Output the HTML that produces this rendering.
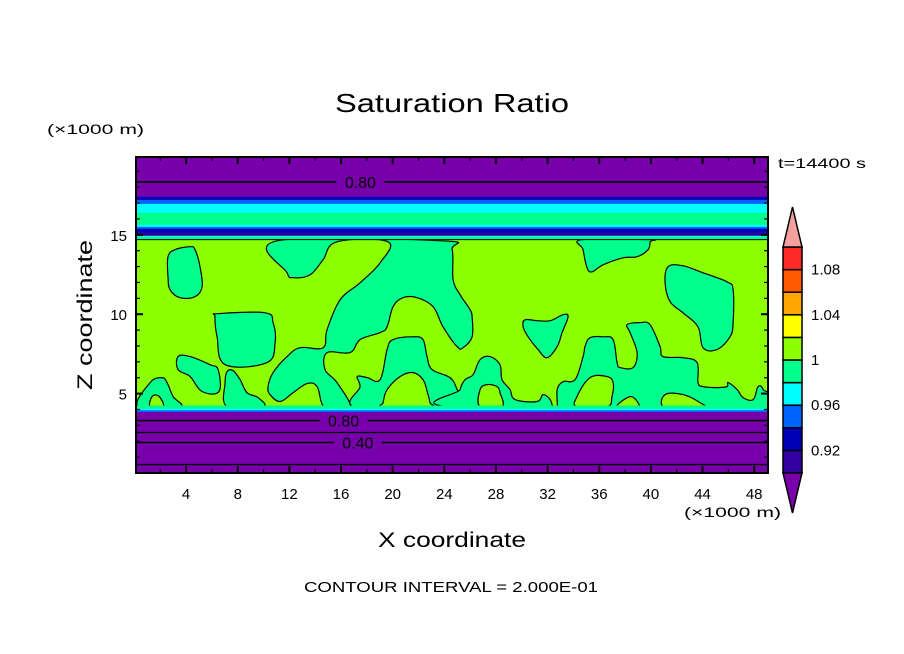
<!DOCTYPE html>
<html><head><meta charset="utf-8"><style>
html,body{margin:0;padding:0;background:#fff;}
svg{display:block;font-family:"Liberation Sans",sans-serif;}
</style></head><body>
<svg id="chart" width="904" height="654" viewBox="0 0 904 654" xmlns="http://www.w3.org/2000/svg">
<defs><clipPath id="plotclip"><rect x="136" y="157" width="632" height="316"/></clipPath></defs>
<g id="plot" clip-path="url(#plotclip)"></g>
<rect x="136" y="157" width="632" height="316" fill="none" stroke="#000" stroke-width="2"/>
<g id="ticks"></g>
<text x="452" y="112" font-size="26" text-anchor="middle" textLength="234" lengthAdjust="spacingAndGlyphs">Saturation Ratio</text>
<text x="47" y="134" font-size="14" textLength="97" lengthAdjust="spacingAndGlyphs">(×1000 m)</text>
<text x="684" y="517" font-size="14" textLength="97" lengthAdjust="spacingAndGlyphs">(×1000 m)</text>
<text x="778" y="168" font-size="14" textLength="88" lengthAdjust="spacingAndGlyphs">t=14400 s</text>
<text x="452" y="547" font-size="21" text-anchor="middle" textLength="148" lengthAdjust="spacingAndGlyphs">X coordinate</text>
<text transform="translate(92,315) rotate(-90)" font-size="21" text-anchor="middle" textLength="150" lengthAdjust="spacingAndGlyphs">Z coordinate</text>
<text x="451" y="592" font-size="15" text-anchor="middle" textLength="294" lengthAdjust="spacingAndGlyphs">CONTOUR INTERVAL = 2.000E-01</text>
<g id="colorbar"></g>
</svg>
<script>
// ---- data ----
const levelColors = ["#7800aa","#3200a0","#0000b4","#0064ff","#00ffff","#00ff8c","#8cff00","#ffff00","#ffa500","#ff5a00","#ff2a2a","#f4a0a0"];
const colorbarLabels = ["0.92","0.96","1","1.04","1.08"];
const xTickLabels = [4,8,12,16,20,24,28,32,36,40,44,48];
const zTickLabels = [5,10,15];
// horizontal bands: [zLow, zHigh, levelIndex]
const bands = [
 [17.39,19.9,0],[17.2,17.39,2],[16.95,17.2,3],[16.38,16.95,4],[15.63,16.38,5],[15.5,15.63,4],
 [15.38,15.5,3],[15.13,15.38,2],[14.94,15.13,1],[14.87,14.94,4],[14.7,14.87,5],[4.2,14.7,6],
 [4.05,4.25,5],[3.95,4.05,4],[3.84,3.95,3],[0,3.84,0]
];
// contour regions [x km, z km]
const regionG1 = [[11.05,14.62],[11.82,12.61],[12.29,12.3],[13.6,12.48],[14.61,13.43],[15.69,14.56],[19.64,14.56],[19.03,13.24],[17.48,11.98],[15.93,10.91],[14.92,9.03],[14.61,7.89],[12.83,7.89],[11.82,7.33],[10.74,6.32],[10.35,5.44],[10.5,4.94],[11.28,4.5],[12.29,5.06],[13.37,5.63],[14.15,5.44],[14.76,4.12],[16.7,4.12],[15.69,5.69],[14.76,6.51],[14.92,7.58],[16.7,7.58],[17.48,8.4],[19.03,8.84],[19.57,9.21],[20.03,10.47],[20.8,11.04],[21.89,11.04],[23.13,10.47],[23.9,9.21],[24.99,7.96],[25.45,7.89],[26.15,8.58],[26.15,9.84],[26.0,10.28],[25.22,11.23],[24.68,12.17],[24.6,14.06],[23.82,14.62]];
const regionG2 = [[17.25,4.12],[17.48,5.44],[17.25,6.07],[18.02,6.01],[19.03,5.88],[19.57,7.77],[20.03,8.4],[21.58,8.58],[22.35,8.4],[22.66,7.33],[23.05,6.51],[24.44,6.01],[24.99,5.25],[25.45,4.12]];
const islandL2 = [[19.26,4.18],[19.26,4.43],[19.57,5.25],[20.57,6.07],[21.58,6.32],[22.35,5.88],[22.7,5.06],[22.89,4.43],[22.89,4.18]];
const regionG3 = [[34.67,14.69],[34.75,14.06],[35.06,12.92],[35.45,12.67],[36.3,13.11],[37.85,13.55],[38.93,13.62],[39.78,14.06],[39.94,14.56],[39.94,14.69]];
const regionG4 = [[41.33,12.99],[42.49,13.05],[44.04,12.61],[45.9,12.04],[46.37,11.54],[46.37,9.47],[46.13,8.58],[45.12,7.77],[44.04,7.89],[43.65,9.21],[42.49,10.09],[41.49,10.79],[41.1,11.98]];
const regionG5 = [[30.25,9.65],[31.18,9.59],[32.2,9.59],[33.2,9.97],[33.59,9.84],[33.12,8.84],[32.74,7.96],[31.96,7.26],[31.26,7.77],[30.49,8.58],[30.1,9.21]];
const regionG6 = [[25.07,4.12],[25.22,5.25],[25.61,5.88],[26.23,6.19],[26.77,7.14],[27.54,7.33],[28.31,6.82],[28.47,5.88],[29.09,5.25],[29.48,4.62],[31.18,4.5],[31.65,4.94],[32.2,4.62],[32.43,4.12],[32.74,4.12],[32.74,5.25],[33.2,5.75],[34.13,5.88],[34.75,7.33],[34.9,7.96],[35.29,8.52],[36.3,8.58],[37.07,8.4],[37.38,6.95],[37.62,6.64],[38.62,6.64],[38.93,7.58],[38.39,8.84],[38.16,9.34],[39.16,9.47],[39.94,9.34],[40.71,7.96],[40.94,7.33],[42.49,7.26],[43.58,6.95],[43.65,5.69],[44.04,5.44],[45.12,5.38],[45.9,5.44],[45.98,5.69],[46.68,5.25],[47.14,4.75],[47.92,4.62],[48.3,5.44],[48.69,5.25],[48.85,4.12]];
const islandLI1 = [[26.77,5.25],[27.3,5.57],[28.08,5.44],[28.31,5.06],[28.47,4.18],[26.77,4.18]];
const islandLI2 = [[34.28,4.81],[35.29,6.01],[36.6,6.07],[37.07,5.69],[36.99,4.81],[36.6,4.18],[34.28,4.18]];
const islandLI3 = [[37.38,4.18],[38.39,4.81],[39.0,4.43],[38.93,4.12]];
const islandLI4 = [[41.1,4.94],[42.49,4.94],[43.81,4.43],[44.04,4.12],[41.1,4.12]];
const regionG7 = [[3.38,7.33],[4.31,7.33],[5.86,6.82],[6.48,6.51],[6.55,5.13],[5.24,5.13],[4.31,6.07],[3.38,6.51]];
const regionG8 = [[7.17,6.38],[7.64,6.45],[8.18,5.88],[8.72,5.06],[9.58,4.75],[9.96,4.18],[7.17,4.18],[7.02,5.69]];
const regionG9 = [[0.28,4.18],[1.21,5.69],[2.14,6.01],[2.52,5.69],[2.99,4.81],[3.53,4.18]];
const islandL9 = [[1.36,4.81],[1.83,4.87],[2.21,4.43],[2.14,4.18],[1.21,4.18]];
const regionG10 = [[6.24,9.84],[6.48,10.03],[10.12,10.09],[10.74,9.47],[10.89,8.21],[10.27,6.95],[7.02,6.82],[6.4,8.58]];
const regionG11 = [[2.6,13.62],[3.14,14.06],[4.31,14.25],[4.69,14.06],[5.08,12.99],[5.24,11.73],[4.69,11.1],[3.53,11.04],[2.76,11.54],[2.6,12.36]];
// contour lines in purple layers: [z, label, labelX]
const contourLines = [[18.33,"0.80",17.5],[3.3,"0.80",16.2],[2.55,"",0],[1.92,"0.40",17.3],[0.53,"",0]];
// ---- axes ----
const X0=0.12, X1=49.07, Z0=0, Z1=19.9;
const sx = x => 136 + (x-X0)/(X1-X0)*632;
const sz = z => 473 - (z-Z0)/(Z1-Z0)*316;
const NS="http://www.w3.org/2000/svg";
function mk(tag, parent){ const e=document.createElementNS(NS,tag); parent.appendChild(e); return e; }
const plot=document.getElementById('plot');
bands.forEach(b=>{
  const r=mk('rect',plot);
  
  
  r.setAttribute('x',136); r.setAttribute('width',632);
  r.setAttribute('y',sz(b[1])); r.setAttribute('height',Math.max(0,sz(b[0])-sz(b[1]))+0.5);
  r.setAttribute('fill',levelColors[b[2]]);
});
function smoothPath(pts){
  const P=pts.map(q=>[sx(q[0]),sz(q[1])]), n=P.length, t=0.18;
  let d='M'+P[0][0].toFixed(1)+','+P[0][1].toFixed(1);
  for(let i=0;i<n;i++){
    const p0=P[(i-1+n)%n],p1=P[i],p2=P[(i+1)%n],p3=P[(i+2)%n];
    const c1=[p1[0]+(p2[0]-p0[0])*t,p1[1]+(p2[1]-p0[1])*t];
    const c2=[p2[0]-(p3[0]-p1[0])*t,p2[1]-(p3[1]-p1[1])*t];
    d+=' C'+c1[0].toFixed(1)+','+c1[1].toFixed(1)+' '+c2[0].toFixed(1)+','+c2[1].toFixed(1)+' '+p2[0].toFixed(1)+','+p2[1].toFixed(1);
  }
  return d+'Z';
}
function region(pts, lvl, name){
  const p=mk('path',plot);
  
  
  p.setAttribute('d',smoothPath(pts));
  p.setAttribute('fill',levelColors[lvl]);
  p.setAttribute('stroke','#000'); p.setAttribute('stroke-width','1.2'); p.setAttribute('stroke-linejoin','round');
}
region(regionG1,5,'contour-region-central');
region(regionG2,5,'contour-region-arch');
region(islandL2,6,'contour-island');
region(regionG3,5,'contour-region-top-right');
region(regionG4,5,'contour-region-right-blob');
region(regionG5,5,'contour-region-triangle');
region(regionG6,5,'contour-region-lower-right');
region(islandLI1,6,'contour-island');
region(islandLI2,6,'contour-island');
region(islandLI3,6,'contour-island');
region(islandLI4,6,'contour-island');
region(regionG7,5,'contour-region-left-small');
region(regionG8,5,'contour-region-left-small-2');
region(regionG9,5,'contour-region-left-corner');
region(islandL9,6,'contour-island');
region(regionG10,5,'contour-region-square');
region(regionG11,5,'contour-region-oval');
// re-draw top strip and bottom transition bands over region edges
bands.filter(b=>b[1]<=4.25 || (b[0]>=14.7 && b[1]<=15.13)).forEach(b=>{
  const r=mk('rect',plot);
  
  
  r.setAttribute('x',136); r.setAttribute('width',632);
  r.setAttribute('y',sz(b[1])); r.setAttribute('height',Math.max(0,sz(b[0])-sz(b[1]))+0.5);
  r.setAttribute('fill',levelColors[b[2]]);
});
const tl=mk('line',plot);


tl.setAttribute('x1',136);tl.setAttribute('x2',768);tl.setAttribute('y1',sz(14.7));tl.setAttribute('y2',sz(14.7));
tl.setAttribute('stroke','#000');tl.setAttribute('stroke-width','1');
contourLines.forEach(c=>{
  const y=sz(c[0]);
  if(c[1]){
    const lx=sx(c[2]);
    [[136,lx-24],[lx+24,768]].forEach(seg=>{
      const l=mk('line',plot);
      
      
      l.setAttribute('x1',seg[0]);l.setAttribute('x2',seg[1]);l.setAttribute('y1',y);l.setAttribute('y2',y);
      l.setAttribute('stroke','#000');l.setAttribute('stroke-width','1.6');
    });
    const t=mk('text',plot);
    
    
    t.setAttribute('x',lx);t.setAttribute('y',y+6);t.setAttribute('text-anchor','middle');t.setAttribute('font-size','16');
    t.textContent=c[1];
  } else {
    const l=mk('line',plot);
    
    
    l.setAttribute('x1',136);l.setAttribute('x2',768);l.setAttribute('y1',y);l.setAttribute('y2',y);
    l.setAttribute('stroke','#000');l.setAttribute('stroke-width','1.3');
  }
});
// ticks
const tk=document.getElementById('ticks');
function line(x1,y1,x2,y2,w,name){
  const l=mk('line',tk);
  
  
  l.setAttribute('x1',x1);l.setAttribute('y1',y1);l.setAttribute('x2',x2);l.setAttribute('y2',y2);
  l.setAttribute('stroke','#000');l.setAttribute('stroke-width',w);
}
for(let v=2; v<=48; v+=2){
  const major=v%4===0, len=major?7:4, x=sx(v);
  line(x,473,x,473-len,major?2:1.2,'x-tick');
  line(x,157,x,157+len,major?2:1.2,'x-tick');
}
xTickLabels.forEach(v=>{
  const t=mk('text',tk);
  
  
  t.setAttribute('x',sx(v));t.setAttribute('y',499);t.setAttribute('text-anchor','middle');t.setAttribute('font-size','15');
  t.textContent=v;
});
for(let v=1; v<=19; v++){
  const major=v%5===0, len=major?7:4, y=sz(v);
  line(136,y,136+len,y,major?2:1.2,'z-tick');
  line(768,y,768-len,y,major?2:1.2,'z-tick');
}
zTickLabels.forEach(v=>{
  const t=mk('text',tk);
  
  
  t.setAttribute('x',127);t.setAttribute('y',sz(v)+6);t.setAttribute('text-anchor','end');t.setAttribute('font-size','15');
  t.textContent=v;
});
// colorbar
const cb=document.getElementById('colorbar');
const cbX=783, cbW=19, cbTop=247, cbBot=473, nBox=10, bh=(cbBot-cbTop)/nBox;
for(let i=0;i<nBox;i++){
  const r=mk('rect',cb);
  
  
  r.setAttribute('x',cbX);r.setAttribute('y',cbBot-(i+1)*bh);r.setAttribute('width',cbW);r.setAttribute('height',bh);
  r.setAttribute('fill',levelColors[i+1]);r.setAttribute('stroke','#000');r.setAttribute('stroke-width','1.5');
}
const up=mk('polygon',cb);


up.setAttribute('points',`${cbX},${cbTop} ${cbX+cbW/2},207 ${cbX+cbW},${cbTop}`);
up.setAttribute('fill',levelColors[11]);up.setAttribute('stroke','#000');up.setAttribute('stroke-width','1.5');
const dn=mk('polygon',cb);


dn.setAttribute('points',`${cbX},${cbBot} ${cbX+cbW/2},513 ${cbX+cbW},${cbBot}`);
dn.setAttribute('fill',levelColors[0]);dn.setAttribute('stroke','#000');dn.setAttribute('stroke-width','1.5');
colorbarLabels.forEach((s,i)=>{
  const t=mk('text',cb);
  
  
  t.setAttribute('x',811);t.setAttribute('y',cbBot-(2*i+1)*bh+5);t.setAttribute('font-size','15');
  t.textContent=s;
});
</script>
</body></html>
